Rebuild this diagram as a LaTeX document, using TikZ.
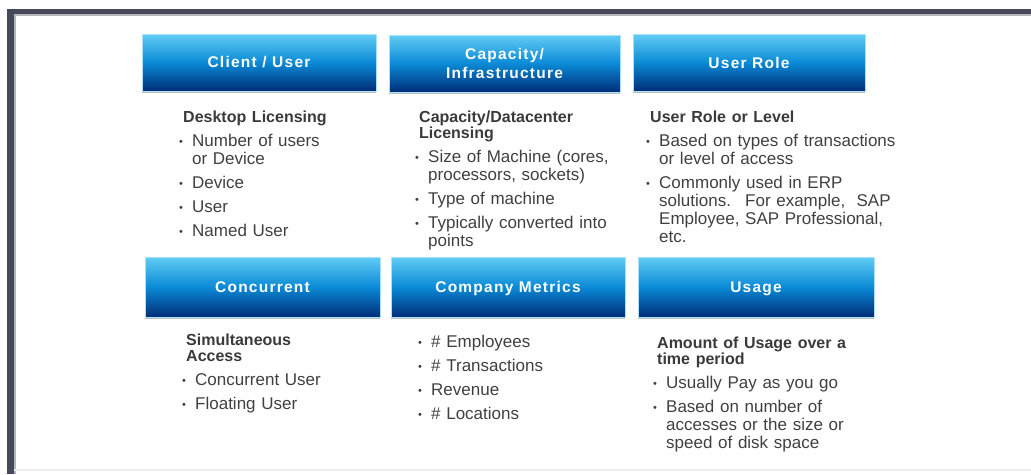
\documentclass[tikz,border=0pt]{standalone}
\usepackage{fontspec}
\setmainfont{Liberation Sans}
\newfontfamily\boxfont[LetterSpace=8]{Liberation Sans}
\usetikzlibrary{shadows}

\definecolor{framegray}{HTML}{474859}
\definecolor{txtgray}{HTML}{404040}
\definecolor{boxtop}{HTML}{62CCF4}
\definecolor{boxmid}{HTML}{0A8AD6}
\definecolor{boxbot}{HTML}{002D78}

\newcommand\bhead[1]{{\fontsize{16}{16}\selectfont\bfseries\color{txtgray!90!black}%
  \hangindent=4pt\hangafter=0\noindent #1\par}}
\newcommand\bitem[1]{\hangindent=13pt\hangafter=1\noindent
  \makebox[13pt][l]{\raisebox{1.5pt}{\fontsize{11}{11}\selectfont\textbullet}}#1\par}

\begin{document}
\begin{tikzpicture}[x=1pt,y=-1pt,
  catbox/.style={rectangle, minimum width=234pt, minimum height=57pt, inner sep=0pt,
    top color=boxtop, bottom color=boxbot, middle color=boxmid,
    draw=boxtop!55!white, line width=0.6pt, text=white, align=center,
    copy shadow={shadow xshift=0pt, shadow yshift=-1.5pt, fill=black!25, draw=none},
    font=\boxfont\bfseries\fontsize{15.5}{19}\selectfont},
  oneline/.style={text depth=0pt},
  coltext/.style={anchor=north west, inner sep=0pt, text width=270pt, align=left,
    text=txtgray, font=\fontsize{17}{18}\selectfont,
    execute at begin node=\setlength\parskip{6pt}}]
  \useasboundingbox (0,0) rectangle (1031,474);

  % frame
  \fill[framegray] (7,9) rectangle (1031,14);
  \fill[framegray] (7,14) rectangle (14,474);
  \fill[framegray!40] (14,14) rectangle (16,474);
  \fill[framegray!40] (16,14) rectangle (1031,16);
  \fill[black!7] (14,469) rectangle (1031,471);

  % top row
  \node[catbox] (client) at (259,62.5) {Client / User};
  \node[catbox, minimum width=231pt] (capacity) at (504.5,63.5) {Capacity/\\Infrastructure};
  \node[catbox, minimum width=232pt] (role) at (749,62.5) {User Role};

  \node[coltext] (clienttxt) at (179,111) {
    \bhead{Desktop Licensing}
    \bitem{Number of users\newline or Device}
    \bitem{Device}
    \bitem{User}
    \bitem{Named User}};
  \node[coltext] (capacitytxt) at (415,111) {
    \bhead{Capacity/Datacenter\newline Licensing}
    \bitem{Size of Machine (cores,\newline processors, sockets)}
    \bitem{Type of machine}
    \bitem{Typically converted into\newline points}};
  \node[coltext] (roletxt) at (646,111) {
    \bhead{User Role or Level}
    \bitem{Based on types of transactions\newline or level of access}
    \bitem{Commonly used in ERP\newline solutions.~ For example,~ SAP\newline
      Employee, SAP Professional,\newline etc.}};

  % bottom row
  \node[catbox, oneline, minimum height=60pt, minimum width=235pt] (concurrent) at (262.5,287) {Concurrent};
  \node[catbox, oneline, minimum height=60pt, minimum width=234pt] (metrics) at (508,287) {Company Metrics};
  \node[catbox, oneline, minimum height=60pt, minimum width=236pt] (usage) at (756,287) {Usage};

  \node[coltext] (concurrenttxt) at (182,334) {
    \bhead{Simultaneous\newline Access}
    \bitem{Concurrent User}
    \bitem{Floating User}};
  \node[coltext] (metricstxt) at (418,335) {
    \bitem{\# Employees}
    \bitem{\# Transactions}
    \bitem{Revenue}
    \bitem{\# Locations}};
  \node[coltext] (usagetxt) at (653,337) {
    \bhead{Amount of Usage over a\newline time period}
    \bitem{Usually Pay as you go}
    \bitem{Based on number of\newline accesses or the size or\newline speed of disk space}};
\end{tikzpicture}
\end{document}
